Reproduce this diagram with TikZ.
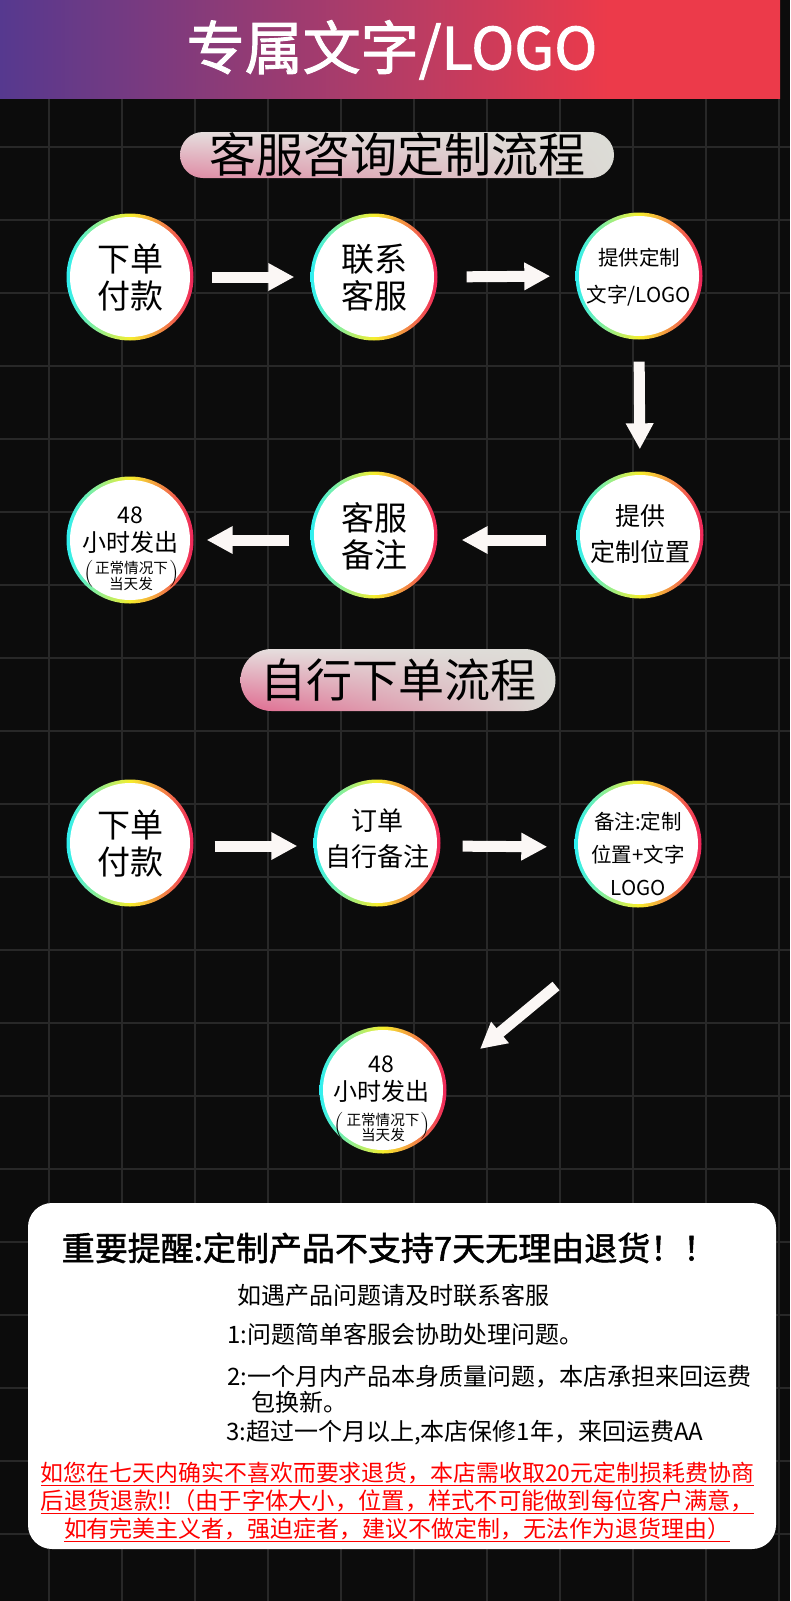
\documentclass[tikz,border=0pt]{standalone}
\usepackage{fontspec}
\usepackage{graphicx}
\newfontfamily\cjk{Noto Sans CJK SC}
\newfontfamily\cjkm[FakeBold=1.6]{Noto Sans CJK SC}
\usetikzlibrary{arrows.meta,calc,shadings}
\definecolor{bg}{HTML}{0C0C0C}
\definecolor{gridc}{HTML}{282828}
\definecolor{hdrA}{HTML}{56398F}
\definecolor{hdrB}{HTML}{B43C66}
\definecolor{hdrC}{HTML}{EC3A4A}
\definecolor{ringL}{HTML}{2EEFF2}
\definecolor{ringM}{HTML}{F6EE2C}
\definecolor{ringR}{HTML}{F0245C}
\definecolor{arrowc}{HTML}{FBF7F5}
\definecolor{pillG}{HTML}{DCDCD6}
\definecolor{pillW}{HTML}{E6DEDE}
\definecolor{pillP}{HTML}{DF8AA4}
\definecolor{pillPP}{HTML}{E0698F}
\definecolor{redtxt}{HTML}{FF0000}
\pgfdeclarehorizontalshading{hdrshade}{100bp}{color(0bp)=(hdrA); color(25bp)=(hdrA); color(50bp)=(hdrB); color(64bp)=(hdrC); color(100bp)=(hdrC)}
\begin{document}
\begin{tikzpicture}[x=1pt,y=-1pt,
  gridline/.style={draw=gridc, line width=2.2pt},
  circ/.style={circle, minimum size=127pt, inner sep=0pt, left color=ringL, right color=ringR, middle color=ringM,
    path picture={\fill[white] (path picture bounding box.center) circle (60pt);}},
  ctxt/.style={inner sep=0pt, align=center, text=black},
  bigtxt/.style={ctxt, font=\cjk\fontsize{33}{37}\selectfont},
  barrow/.style={draw=arrowc, line width=11pt, -{Triangle[width=26pt,length=26pt]}},
  pill/.style={inner sep=0pt, text=black},
  boxtxt/.style={inner sep=0pt, anchor=west, text=black, font=\cjk\fontsize{24}{24}\selectfont},
  redline/.style={inner sep=0pt, text=redtxt, font=\cjk\fontsize{23}{23}\selectfont},
  paren/.style={inner sep=0pt, text=black, font=\rmfamily\fontsize{27}{27}\selectfont}
]
\useasboundingbox (0,0) rectangle (790,1601);
\fill[bg] (0,0) rectangle (790,1601);
% grid
\foreach \k in {0,...,10} \draw[gridline] ({49+73*\k},98) -- ({49+73*\k},1601);
\foreach \k in {1,...,20} \draw[gridline] (0,{74+73*\k}) -- (790,{74+73*\k});
% header
\shade[shading=hdrshade] (0,0) rectangle (780,98);
\node[inner sep=0pt, text=white, font=\cjkm\fontsize{58}{60}\selectfont] (title) at (392,50) {专属文字/LOGO};
% pill 1
\node[pill, minimum width=434pt, minimum height=46pt, rounded corners=23pt,
  upper left=pillW, upper right=pillG, lower left=pillP, lower right=pillG,
  font=\cjk\fontsize{47}{47}\selectfont] (p1) at (397,155) {客服咨询定制流程};
% row 1
\node[circ] (c1) at (130,277) {};
\node[circ] (c2) at (374,277) {};
\node[circ] (c3) at (639,276) {};
\node[bigtxt] (tc1) at ($(c1)+(0,1)$) {下单\\付款};
\node[bigtxt] (tc2) at ($(c2)+(0,1)$) {联系\\客服};
\node[ctxt, font=\cjk\fontsize{20.5}{37}\selectfont] (tc3) at ($(c3)+(0,1)$) {提供定制\\文字/LOGO};
\draw[barrow, shorten <=18pt, shorten >=16pt] (c1.east) -- (c2.west);
\draw[barrow, shorten <=29pt, shorten >=25pt] (c2.east) -- (c3.west);
% row 2
\node[circ] (d1) at (130,540) {};
\node[circ] (d2) at (374,535) {};
\node[circ] (d3) at (640,535) {};
\draw[barrow, shorten <=22pt, shorten >=22pt] (c3.south) -- (d3.north);
\node[bigtxt] (td2) at ($(d2)+(0,1)$) {客服\\备注};
\node[ctxt, font=\cjk\fontsize{25}{36}\selectfont] (td3) at ($(d3)+(0,-1)$) {提供\\定制位置};
\node[ctxt, font=\cjk\fontsize{23}{23}\selectfont] (td1a) at ($(d1)+(0,-25)$) {48};
\node[ctxt, font=\cjk\fontsize{24}{24}\selectfont] (td1b) at ($(d1)+(0,2)$) {小时发出};
\node[ctxt, font=\cjk\fontsize{14.6}{16}\selectfont] (td1c) at ($(d1)+(1.5,28)$) {正常情况下};
\node[ctxt, font=\cjk\fontsize{14.6}{16}\selectfont] (td1d) at ($(d1)+(1,44)$) {当天发};
\node[paren] (td1l) at ($(d1)+(-41,34)$) {(};
\node[paren] (td1r) at ($(d1)+(44,34)$) {)};
\draw[barrow, shorten <=30pt, shorten >=24pt] ([yshift=-5pt]d3.west) -- ([yshift=-5pt]d2.east);
\draw[barrow, shorten <=21pt, shorten >=13pt] ([yshift=-5pt]d2.west) -- (d1.east);
% pill 2
\node[pill, minimum width=315pt, minimum height=62pt, rounded corners=31pt,
  upper left=pillW, upper right=pillG, lower left=pillPP, lower right=pillG,
  font=\cjk\fontsize{46}{46}\selectfont] (p2) at (398,680) {自行下单流程};
% row 3
\node[circ] (e1) at (130,843) {};
\node[circ] (e2) at (377,843) {};
\node[circ] (e3) at (638,844) {};
\node[bigtxt] (te1) at ($(e1)+(0,1)$) {下单\\付款};
\node[ctxt, font=\cjk\fontsize{26}{36}\selectfont] (te2) at ($(e2)+(0,-4)$) {订单\\自行备注};
\node[ctxt, font=\cjk\fontsize{20.5}{33}\selectfont] (te3) at ($(e3)+(0,10)$) {备注:定制\\位置+文字\\LOGO};
\draw[barrow, shorten <=21pt, shorten >=16pt] ([yshift=-3pt]e1.east) -- ([yshift=-3pt]e2.west);
\draw[barrow, shorten <=22pt, shorten >=27pt] ([yshift=-3pt]e2.east) -- ([yshift=-3pt]e3.west);
% diagonal arrow
\coordinate (g1) at (556,986);
\coordinate (g2) at (480,1049);
\draw[barrow] (g1) -- (g2);
% row 4
\node[circ] (f1) at (383,1090) {};
\node[ctxt, font=\cjk\fontsize{23}{23}\selectfont] (tf1a) at ($(f1)+(-2,-26)$) {48};
\node[ctxt, font=\cjk\fontsize{24}{24}\selectfont] (tf1b) at ($(f1)+(-2,1)$) {小时发出};
\node[ctxt, font=\cjk\fontsize{14.6}{16}\selectfont] (tf1c) at ($(f1)+(0,30)$) {正常情况下};
\node[ctxt, font=\cjk\fontsize{14.6}{16}\selectfont] (tf1d) at ($(f1)+(0,45)$) {当天发};
\node[paren] (tf1l) at ($(f1)+(-44,36)$) {(};
\node[paren] (tf1r) at ($(f1)+(42,36)$) {)};
% notice box
\node[fill=white, rounded corners=24pt, minimum width=748pt, minimum height=346pt, inner sep=0pt] (box) at (402,1376) {};
\node[inner sep=0pt, text=black, font=\cjkm\fontsize{33}{33}\selectfont] (h) at (389,1248) {重要提醒:定制产品不支持7天无理由退货！！};
\node[boxtxt] (l0) at (237,1295) {如遇产品问题请及时联系客服};
\node[boxtxt] (l1) at (227,1334) {1:问题简单客服会协助处理问题。};
\node[boxtxt] (l2) at (227,1377) {2:一个月内产品本身质量问题，本店承担来回运费};
\node[boxtxt] (l3) at (251,1402) {包换新。};
\node[boxtxt] (l4) at (226,1433) {3:超过一个月以上,本店保修1年，来回运费AA};
\node[redline] (r1) at (397.5,1474) {\resizebox{713pt}{!}{\underline{如您在七天内确实不喜欢而要求退货，本店需收取20元定制损耗费协商}}};
\node[redline] (r2) at (397.5,1502) {\resizebox{713pt}{!}{\underline{后退货退款!!（由于字体大小，位置，样式不可能做到每位客户满意，}}};
\node[redline] (r3) at (397,1530) {\resizebox{666pt}{!}{\underline{如有完美主义者，强迫症者，建议不做定制，无法作为退货理由）}}};
\end{tikzpicture}
\end{document}
